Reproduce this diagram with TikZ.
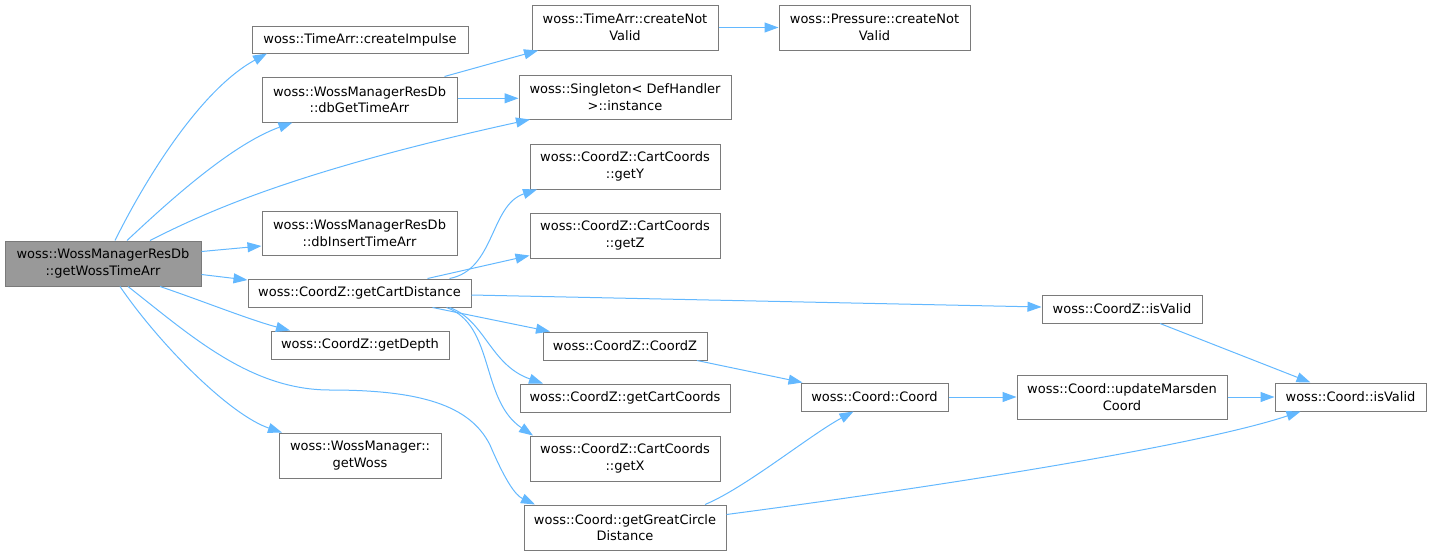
\documentclass[tikz,border=0pt]{standalone}
\usepackage{fontspec}
\setmainfont{DejaVu Sans}
\usetikzlibrary{arrows.meta}
\definecolor{edgec}{HTML}{63B8FF}
\definecolor{bordc}{HTML}{7A7A7A}
\definecolor{mainf}{HTML}{999999}
\begin{document}
\begin{tikzpicture}[x=1pt,y=-1pt,
  box/.style={draw=bordc,line width=1pt,fill=white,inner sep=0pt,align=center,font=\fontsize{13}{16.7}\selectfont},
  mainbox/.style={box,fill=mainf},
  edge/.style={draw=edgec,line width=1pt,-{Triangle[length=14pt,width=10pt]}}]
\useasboundingbox (0,0) rectangle (1432,555);
\node[mainbox,minimum width=196pt,minimum height=45pt] (main) at (103,263.5) {woss::WossManagerResDb\\::getWossTimeArr};
\node[box,minimum width=216pt,minimum height=27pt] (ci) at (360,39.5) {woss::TimeArr::createImpulse};
\node[box,minimum width=195pt,minimum height=45pt] (dbg) at (359.5,99.5) {woss::WossManagerResDb\\::dbGetTimeArr};
\node[box,minimum width=195pt,minimum height=44pt] (dbi) at (359.5,233) {woss::WossManagerResDb\\::dbInsertTimeArr};
\node[box,minimum width=223pt,minimum height=28pt] (gcd) at (359.5,293) {woss::CoordZ::getCartDistance};
\node[box,minimum width=178pt,minimum height=28pt] (gd) at (360,345) {woss::CoordZ::getDepth};
\node[box,minimum width=162pt,minimum height=45pt] (gw) at (360,455.5) {woss::WossManager::\\getWoss};
\node[box,minimum width=186pt,minimum height=45pt] (tcnv) at (625,27.5) {woss::TimeArr::createNot\\Valid};
\node[box,minimum width=191pt,minimum height=45pt] (pcnv) at (874.5,27.5) {woss::Pressure::createNot\\Valid};
\node[box,minimum width=212pt,minimum height=44pt] (sing) at (625,97) {woss::Singleton< DefHandler\\>::instance};
\node[box,minimum width=190pt,minimum height=45pt] (gy) at (625,166.5) {woss::CoordZ::CartCoords\\::getY};
\node[box,minimum width=190pt,minimum height=45pt] (gz) at (625,235.5) {woss::CoordZ::CartCoords\\::getZ};
\node[box,minimum width=164pt,minimum height=28pt] (czc) at (625,346) {woss::CoordZ::CoordZ};
\node[box,minimum width=210pt,minimum height=28pt] (gcc) at (625,398) {woss::CoordZ::getCartCoords};
\node[box,minimum width=190pt,minimum height=45pt] (gx) at (625,458.5) {woss::CoordZ::CartCoords\\::getX};
\node[box,minimum width=202pt,minimum height=45pt] (ggcd) at (625,527.5) {woss::Coord::getGreatCircle\\Distance};
\node[box,minimum width=147pt,minimum height=28pt] (cc) at (874.5,397) {woss::Coord::Coord};
\node[box,minimum width=160pt,minimum height=28pt] (czv) at (1122,309) {woss::CoordZ::isValid};
\node[box,minimum width=210pt,minimum height=44pt] (um) at (1122,397) {woss::Coord::updateMarsden\\Coord};
\node[box,minimum width=151pt,minimum height=28pt] (cv) at (1350.5,397) {woss::Coord::isValid};
\coordinate (w1) at (330,390);
\coordinate (w2) at (490,445);
\draw[edge] ([xshift=12pt]main.north) .. controls (145,180) and (200,90) .. ([xshift=-93pt]ci.south);
\draw[edge] ([xshift=24pt]main.north) .. controls (165,205) and (230,145) .. ([xshift=-67pt]dbg.south);
\draw[edge] ([xshift=47pt]main.north) .. controls (210,210) and (300,170) .. ([xshift=-95pt]sing.south);
\draw[edge] ([yshift=12pt]main.east) -- ([yshift=-13pt]dbi.west);
\draw[edge] ([yshift=-11pt]main.east) -- ([yshift=13pt]gcd.west);
\draw[edge] ([xshift=57pt]main.south) .. controls (200,300) and (250,320) .. ([xshift=-70pt]gd.north);
\draw[edge] ([xshift=25pt]main.south) .. controls (190,335) and (250,390) .. (w1) .. controls (420,390) and (470,405) .. (w2) .. controls (505,480) and (515,495) .. ([xshift=-90pt]ggcd.north);
\draw[edge] ([xshift=17pt]main.south) .. controls (160,345) and (230,415) .. ([xshift=-78pt]gw.north);
\draw[edge] ([xshift=85pt]dbg.north) -- ([xshift=-87pt]tcnv.south);
\draw[edge] ([yshift=1.2pt]dbg.east) -- ([yshift=-1.3pt]sing.west);
\draw[edge] (tcnv.east) -- (pcnv.west);
\draw[edge] ([xshift=90pt]gcd.north) .. controls (495,270) and (490,205) .. ([xshift=-88pt]gy.south);
\draw[edge] ([xshift=68pt]gcd.north) -- ([yshift=-20pt]gz.west);
\draw[edge] ([yshift=-2pt]gcd.east) -- ([yshift=2pt]czv.west);
\draw[edge] ([xshift=73pt]gcd.south) -- ([xshift=-75pt]czc.north);
\draw[edge] ([xshift=90pt]gcd.south) .. controls (485,320) and (490,365) .. ([xshift=-82pt]gcc.north);
\draw[edge] ([xshift=87pt]gcd.south) .. controls (495,325) and (480,400) .. ([xshift=-92pt]gx.north);
\draw[edge] ([xshift=72pt]czc.south) -- ([xshift=2pt]cc.north west);
\draw[edge] ([xshift=80pt]ggcd.north) .. controls (745,488) and (810,435) .. ([xshift=-21pt]cc.south);
\draw[edge] ([yshift=13pt]ggcd.east) .. controls (950,485) and (1200,445) .. ([xshift=-50pt]cv.south);
\draw[edge] (cc.east) -- (um.west);
\draw[edge] (um.east) -- (cv.west);
\draw[edge] ([xshift=38pt]czv.south) -- ([xshift=-40pt]cv.north);
\end{tikzpicture}
\end{document}
